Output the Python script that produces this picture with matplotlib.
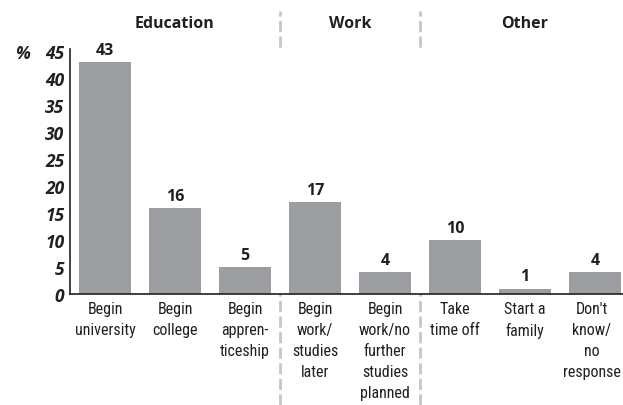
import matplotlib
matplotlib.use("Agg")
import matplotlib.pyplot as plt
from matplotlib import font_manager
from matplotlib.transforms import blended_transform_factory

categories = ["Begin\nuniversity", "Begin\ncollege", "Begin\nappren-\nticeship",
              "Begin\nwork/\nstudies\nlater", "Begin\nwork/no\nfurther\nstudies\nplanned",
              "Take\ntime off", "Start a\nfamily", "Don't\nknow/\nno\nresponse"]
values = [43, 16, 5, 17, 4, 10, 1, 4]
groups = ["Education", "Work", "Other"]
group_centers = [1.0, 3.5, 6.0]
separators = [2.5, 4.5]
yticks = [0, 5, 10, 15, 20, 25, 30, 35, 40, 45]

avail = {f.name for f in font_manager.fontManager.ttflist}
narrow = [f for f in ["Liberation Sans Narrow", "Roboto Condensed", "Open Sans Condensed", "DejaVu Sans"] if f in avail]
base = [f for f in ["Open Sans", "DejaVu Sans"] if f in avail]

W, H = 623, 406
fig = plt.figure(figsize=(W / 100, H / 100), dpi=100)
left, right = 70 / W, 1.0
bottom = 1 - 295 / H
top = 1 - 49.5 / H
ax = fig.add_axes([left, bottom, right - left, top - bottom])

text_color = "#231f20"
bar_color = "#9d9ea2"
x = list(range(len(values)))
ax.bar(x, values, width=0.757, color=bar_color, zorder=2)
ax.set_xlim(-0.5, 7.4)
ax.set_ylim(0, 45.5)

for s in ["top", "right"]:
    ax.spines[s].set_visible(False)
for s in ["left", "bottom"]:
    ax.spines[s].set_color(text_color)
    ax.spines[s].set_linewidth(1.2)

ax.set_yticks(yticks)
ax.set_yticklabels([str(t) for t in yticks], fontsize=12.5, fontweight="bold",
                   fontstyle="italic", family=base, color=text_color)
ax.tick_params(axis="y", length=0, pad=4)
ax.set_xticks(x)
ax.set_xticklabels([])
ax.tick_params(axis="x", length=0)

for xi, lab in zip(x, categories):
    dx = -2.5 if xi == len(categories) - 1 else 0
    ax.annotate(lab, (xi, 0), xytext=(dx, -5), textcoords="offset points",
                ha="center", va="top", fontsize=11.5, family=narrow, color=text_color,
                linespacing=1.5, annotation_clip=False)

for xi, v in zip(x, values):
    ax.annotate(str(v), (xi, v), xytext=(0, 3), textcoords="offset points",
                ha="center", va="bottom", fontsize=11.5, fontweight="bold",
                family=base, color=text_color)

fig.text(22 / W, 1 - 54 / H, "%", fontsize=12.5, fontweight="bold", fontstyle="italic",
         family=base, color=text_color, ha="center", va="center")

gtrans = blended_transform_factory(ax.transData, fig.transFigure)
for g, xc in zip(groups, group_centers):
    fig.text(xc, 1 - 24 / H, g, transform=gtrans, ha="center", va="center",
             fontsize=11.5, fontweight="bold", family=base, color=text_color)

for xs in separators:
    fig.add_artist(plt.Line2D([xs, xs], [0, 1 - 12 / H], transform=gtrans,
                              color="#c6c6c6", lw=2, linestyle=(0, (4, 1.6)), zorder=0))

fig.savefig("out.png", dpi=100)
